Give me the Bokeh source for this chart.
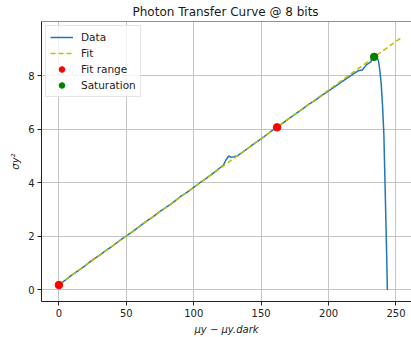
from bokeh.plotting import figure
from bokeh.models import Span, FixedTicker, Range1d, Legend
from bokeh.embed import file_html
from bokeh.resources import INLINE

# ---- data ----
data_x = [0, 5, 10, 15, 20, 25, 30, 35, 40, 45, 50, 55, 60, 65, 70, 75, 80, 85, 90, 95,
          100, 105, 110, 115, 120, 122, 124, 126, 128, 130, 132, 135, 140, 145, 150, 155,
          160, 165, 170, 175, 180, 185, 190, 195, 200, 205, 210, 213, 216, 219, 222, 225,
          228, 231, 233.8, 235.5, 237, 238, 239, 240, 241, 242, 243, 243.6]
data_y = [0.19, 0.38, 0.57, 0.74, 0.93, 1.12, 1.29, 1.48, 1.65, 1.84, 2.02, 2.19, 2.38, 2.57,
          2.74, 2.93, 3.10, 3.28, 3.48, 3.64, 3.83, 4.02, 4.19, 4.38, 4.58, 4.66, 4.86, 5.00,
          4.95, 4.97, 5.00, 5.10, 5.28, 5.47, 5.64, 5.83, 6.02, 6.19, 6.38, 6.55, 6.73, 6.92,
          7.08, 7.26, 7.43, 7.60, 7.78, 7.88, 7.98, 8.08, 8.18, 8.21, 8.40, 8.50, 8.70, 8.73,
          8.55, 8.20, 7.70, 6.90, 5.80, 3.70, 1.50, 0.0]
fit_x = [0, 255]
fit_y = [0.20, 9.46]
range_x = [0, 161.8]
range_y = [0.185, 6.07]
sat_x = [233.8]
sat_y = [8.70]
x_ticks = [0, 50, 100, 150, 200, 250]
y_ticks = [0, 2, 4, 6, 8]
title_text = "Photon Transfer Curve @ 8 bits"
x_label = "μy − μy.dark"
y_label = "σy²"

FONT = "DejaVu Sans"

p = figure(width=411, height=337, output_backend="svg", toolbar_location=None,
           x_range=Range1d(-12.9, 261.5), y_range=Range1d(-0.43, 10.02),
           min_border_left=41, min_border_right=0, min_border_top=19, min_border_bottom=36,
           title=title_text)
p.outline_line_color = None
p.background_fill_color = "white"
p.border_fill_color = "white"

p.title.text_font = FONT
p.title.text_font_size = "12px"
p.title.text_font_style = "normal"
p.title.text_color = "#1a1a1a"
p.title.align = "left"
p.title.offset = 91
p.title.standoff = 5

for ax in (p.xaxis[0], p.yaxis[0]):
    ax.axis_line_color = "#222222"
    ax.axis_line_width = 1
    ax.major_tick_line_color = "#222222"
    ax.major_tick_out = 4
    ax.major_tick_in = 0
    ax.minor_tick_line_color = None
    ax.major_label_text_font = FONT
    ax.major_label_text_font_size = "10px"
    ax.major_label_text_color = "#222222"
    ax.major_label_standoff = 3
    ax.axis_label_text_font = FONT
    ax.axis_label_text_font_size = "10px"
    ax.axis_label_text_font_style = "italic"
    ax.axis_label_text_color = "#222222"
    ax.axis_label_standoff = 4
p.xaxis[0].ticker = FixedTicker(ticks=x_ticks)
p.yaxis[0].ticker = FixedTicker(ticks=y_ticks)
p.xaxis[0].axis_label = x_label
p.yaxis[0].axis_label = y_label

p.xgrid.grid_line_color = "#c4c4c4"
p.ygrid.grid_line_color = "#c4c4c4"
p.xgrid.grid_line_width = 1
p.ygrid.grid_line_width = 1

# top spine
p.add_layout(Span(location=10.02, dimension="width", line_color="#222222", line_width=1))

r_data = p.line(data_x, data_y, line_color="#1f77b4", line_width=1.5)
r_fit = p.line(fit_x, fit_y, line_color="#bfbf00", line_width=1.5, line_dash="5 3")
r_rng = p.scatter(range_x, range_y, marker="circle", size=7.5, fill_color="#ff0000",
                  line_color="#ff0000")
r_sat = p.scatter(sat_x, sat_y, marker="circle", size=7.5, fill_color="#008000",
                  line_color="#008000")

legend = Legend(items=[("Data", [r_data]), ("Fit", [r_fit]), ("Fit range", [r_rng]),
                       ("Saturation", [r_sat])],
                location="top_left")
legend.label_text_font = FONT
legend.label_text_font_size = "10.5px"
legend.label_text_color = "#222222"
legend.glyph_width = 23
legend.glyph_height = 14
legend.label_height = 14
legend.label_standoff = 8
legend.spacing = 2
legend.padding = 4
legend.margin = 4
legend.border_line_color = "#cccccc"
legend.border_line_width = 1
legend.background_fill_alpha = 0.8
p.add_layout(legend)

open("out.html", "w").write(file_html(p, INLINE))
